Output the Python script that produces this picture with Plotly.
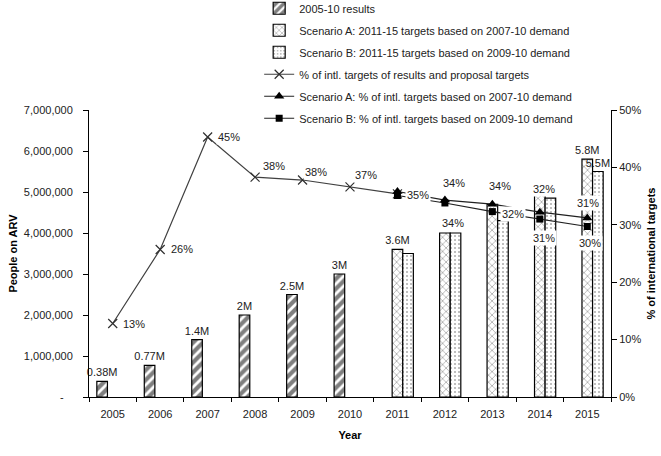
import plotly.graph_objects as go

# ---------------- data ----------------
years = ['2005', '2006', '2007', '2008', '2009', '2010',
         '2011', '2012', '2013', '2014', '2015']

results_2005_10 = [380000, 770000, 1400000, 2000000, 2500000, 3000000,
                   None, None, None, None, None]
scenario_a = [None, None, None, None, None, None,
              3600000, 4000000, 4700000, 5100000, 5800000]
scenario_b = [None, None, None, None, None, None,
              3500000, 4000000, 4300000, 4850000, 5500000]

results_labels = ['0.38M', '0.77M', '1.4M', '2M', '2.5M', '3M', '', '', '', '', '']
scenario_a_labels = ['', '', '', '', '', '', '3.6M', '', '', '', '5.8M']
scenario_b_labels = ['', '', '', '', '', '', '', '', '', '', '5.5M']

pct_results = [0.128, 0.257, 0.453, 0.383, 0.378, 0.366, 0.354,
               None, None, None, None]
pct_a = [None, None, None, None, None, None, 0.358, 0.343, 0.336, 0.322, 0.312]
pct_b = [None, None, None, None, None, None, 0.351, 0.338, 0.323, 0.310, 0.297]

# which percentage points carry a visible label
pct_results_show = [True] * 7 + [False] * 4
pct_a_show = [False] * 7 + [True] * 4
pct_b_show = [False] * 7 + [True] * 4

left_ticks = [0, 1000000, 2000000, 3000000, 4000000, 5000000, 6000000, 7000000]
left_ticktext = ['-\u00a0\u00a0\u00a0', '1,000,000', '2,000,000', '3,000,000',
                 '4,000,000', '5,000,000', '6,000,000', '7,000,000']

# ---------------- style / layout config ----------------
FONT = 'Liberation Sans, Arial, sans-serif'
TXT = '#222222'
# label offsets in pixels (dx, dy-up) for each percentage label
off_results = [(21, 0), (22, 0), (21, 0), (19, 11), (13, 8), (16, 12), (21, -1)]
off_a = {7: (9, 17), 8: (8, 18), 9: (4, 23), 10: (1, 15)}
off_b = {7: (8, -20), 8: (21, -2), 9: (4, -19), 10: (3, -16)}

fig = go.Figure()

fig.add_trace(go.Bar(
    x=years, y=results_2005_10, name='2005-10 results',
    text=results_labels, textposition='outside', constraintext='none',
    cliponaxis=False, textfont=dict(size=11, color=TXT, family=FONT),
    marker=dict(color='white', line=dict(color='black', width=1.2),
                pattern=dict(shape='/', fgcolor='black', bgcolor='white',
                             size=7, solidity=0.6)),
    legendgroup='g1'))
fig.add_trace(go.Bar(
    x=years, y=scenario_a, name='Scenario A: 2011-15 targets based on 2007-10 demand',
    text=scenario_a_labels, textposition='outside', constraintext='none',
    cliponaxis=False, textfont=dict(size=11, color=TXT, family=FONT),
    marker=dict(color='white', line=dict(color='black', width=1.2),
                pattern=dict(shape='x', fgcolor='#333333', bgcolor='white',
                             size=5, solidity=0.25)),
    legendgroup='g2'))
fig.add_trace(go.Bar(
    x=years, y=scenario_b, name='Scenario B: 2011-15 targets based on 2009-10 demand',
    text=scenario_b_labels, textposition='outside', constraintext='none',
    cliponaxis=False, textfont=dict(size=11, color=TXT, family=FONT),
    marker=dict(color='white', line=dict(color='black', width=1.2),
                pattern=dict(shape='.', fgcolor='#555555', bgcolor='white',
                             size=4, solidity=0.2)),
    legendgroup='g3'))

fig.add_trace(go.Scatter(
    x=years, y=pct_results, yaxis='y2', mode='lines+markers',
    name='% of intl. targets of results and proposal targets',
    line=dict(color='#404040', width=1.2),
    marker=dict(symbol='x-thin', size=9, line=dict(color='#303030', width=1.2)),
    legendgroup='g4'))
fig.add_trace(go.Scatter(
    x=years, y=pct_a, yaxis='y2', mode='lines+markers',
    name='Scenario A: % of intl. targets based on 2007-10 demand',
    line=dict(color='#202020', width=1.2),
    marker=dict(symbol='triangle-up', size=9, color='black'),
    legendgroup='g5'))
fig.add_trace(go.Scatter(
    x=years, y=pct_b, yaxis='y2', mode='lines+markers',
    name='Scenario B: % of intl. targets based on 2009-10 demand',
    line=dict(color='#202020', width=1.2),
    marker=dict(symbol='square', size=7, color='black'),
    legendgroup='g6'))

annotations = []


def add_labels(values, show, offsets):
    for i, v in enumerate(values):
        if v is None or not show[i]:
            continue
        dx, dy = offsets[i]
        annotations.append(dict(
            x=i, y=v, xref='x', yref='y2',   # category index on the x axis
            text=f'{round(v * 100)}%', showarrow=False,
            xshift=dx, yshift=dy, bgcolor='white', borderpad=1,
            font=dict(size=11, color=TXT, family=FONT)))


add_labels(pct_results, pct_results_show, {i: o for i, o in enumerate(off_results)})
add_labels(pct_a, pct_a_show, off_a)
add_labels(pct_b, pct_b_show, off_b)

fig.update_layout(
    width=661, height=456,
    margin=dict(l=89, r=50, t=110, b=59, autoexpand=False),
    paper_bgcolor='white', plot_bgcolor='white',
    font=dict(family=FONT, size=11, color=TXT),
    barmode='group', bargap=0.33, bargroupgap=0,
    showlegend=True,
    legend=dict(x=0.326, y=1.405, xanchor='left', yanchor='top',
                traceorder='grouped', tracegroupgap=3,
                font=dict(size=11, family=FONT, color=TXT),
                bgcolor='rgba(0,0,0,0)'),
    annotations=annotations,
    xaxis=dict(type='category', range=[-0.5, len(years) - 0.5],
               showline=True, linecolor='black', linewidth=1,
               ticks='outside', tickson='boundaries', ticklen=4, tickcolor='black',
               ticklabelstandoff=7,
               showgrid=False, tickfont=dict(size=11, family=FONT, color=TXT),
               title=dict(text='Year', font=dict(size=11, family=FONT, color='black',
                                                  weight='bold'), standoff=12)),
    yaxis=dict(range=[0, 7000000], tickvals=left_ticks, ticktext=left_ticktext,
               showline=True, linecolor='black', linewidth=1, ticks='outside',
               ticklen=5, tickcolor='black', ticklabelstandoff=8,
               showgrid=False, zeroline=False,
               tickfont=dict(size=11, family=FONT, color=TXT),
               title=dict(text='People on ARV', standoff=4,
                          font=dict(size=11, family=FONT, color='black', weight='bold'))),
    yaxis2=dict(range=[0, 0.5], dtick=0.1, tickformat='.0%', overlaying='y',
                side='right', showline=True, linecolor='black', linewidth=1,
                ticks='outside', ticklen=5, tickcolor='black', showgrid=False,
                zeroline=False, tickfont=dict(size=11, family=FONT, color=TXT),
                title=dict(text='% of international targets', standoff=6,
                           font=dict(size=11, family=FONT, color='black', weight='bold'))),
)

# remove the browser's default 8px body margin so the figure fills the window
fig.write_html('out.html', config={'displayModeBar': False},
               post_script="document.body.style.margin='0';")
